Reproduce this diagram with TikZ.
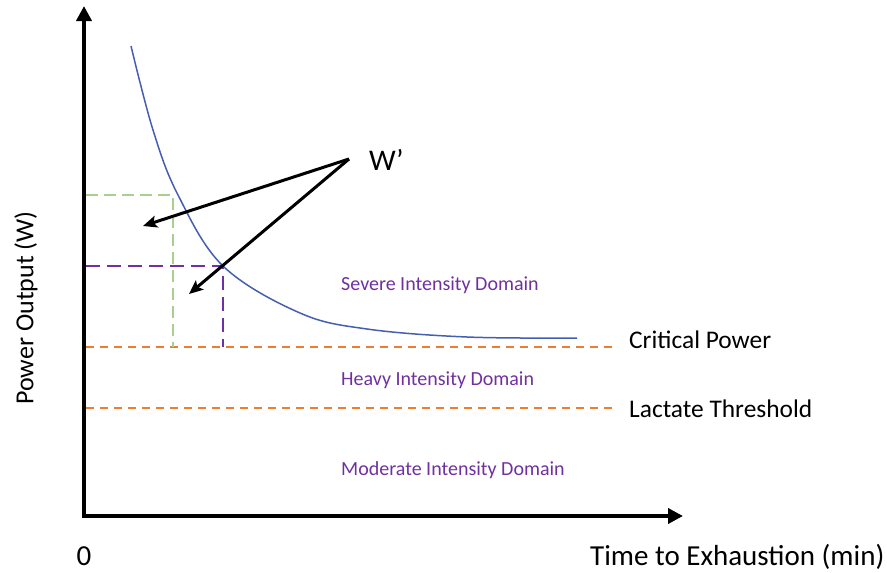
\documentclass[tikz,border=0pt]{standalone}
\usepackage{fontspec}
\setmainfont{Carlito}
\usetikzlibrary{arrows.meta}
\definecolor{curveblue}{RGB}{68,95,175}
\definecolor{domorange}{RGB}{237,125,49}
\definecolor{dompurple}{RGB}{112,48,160}
\definecolor{lightgreen}{RGB}{169,209,142}
\begin{document}
\begin{tikzpicture}[x=1pt,y=-1pt,
  axisline/.style={line width=4pt,-{Triangle[length=15pt,width=15pt]}},
  pointer/.style={line width=3pt,-{Stealth[length=14pt,width=12pt,inset=3pt]}},
  thresh/.style={domorange,line width=1.6pt,dash pattern=on 8pt off 6pt},
  domlabel/.style={dompurple,font=\fontsize{20}{24}\selectfont,anchor=west,inner sep=0pt},
  txtlabel/.style={black,font=\fontsize{25.4}{30}\selectfont,inner sep=0pt},
  biglabel/.style={black,font=\fontsize{29}{34}\selectfont,inner sep=0pt}]
\useasboundingbox (0,0) rectangle (887,573);
\coordinate (O) at (84,516);
\coordinate (ytop) at (84,6);
\coordinate (xend) at (683,516);
% thresholds
\coordinate (cpL) at (86,347);
\coordinate (cpR) at (612,347);
\coordinate (ltL) at (86,408);
\coordinate (ltR) at (612,408);
\draw[thresh] (cpL) -- (cpR);
\draw[thresh] (ltL) -- (ltR);
% dashed guides
\coordinate (gA) at (86,195);
\coordinate (gC) at (173,195);
\coordinate (gB) at (173,347);
\draw[lightgreen,line width=1.3pt,dash pattern=on 12pt off 6pt] (gA) -- (gC) -- (gB);
\coordinate (pA) at (86,266);
\coordinate (pC) at (223,266);
\coordinate (pB) at (223,347);
\draw[dompurple,line width=1.8pt,dash pattern=on 14pt off 7pt] (pA) -- (pC) -- (pB);
% curve
\draw[curveblue,line width=1.5pt] plot[smooth,tension=0.6] coordinates
  {(131,46) (153,130) (178,195) (223,266) (300,313) (367,329) (467,337) (577,338)};
% axes
\draw[axisline] (O) -- (ytop);
\draw[axisline] ([xshift=-2pt]O) -- (xend);
% W'
\node[black,font=\fontsize{30}{36}\selectfont,inner sep=0pt,anchor=west] (w) at (369,160) {W’};
\coordinate (wtip) at (349,159);
\coordinate (a1) at (143,226);
\coordinate (a2) at (189,294);
\draw[pointer] (wtip) -- (a1);
\draw[pointer] (wtip) -- (a2);
% domains
\node[domlabel] (sev) at (341,285) {Severe Intensity Domain};
\node[domlabel] (hev) at (341,380) {Heavy Intensity Domain};
\node[domlabel] (mod) at (341,470) {Moderate Intensity Domain};
% labels
\node[txtlabel,anchor=west] (cp) at (629,340) {Critical Power};
\node[txtlabel,anchor=west] (lt) at (629,409) {Lactate Threshold};
\node[txtlabel,font=\fontsize{26}{30}\selectfont,rotate=90] (yl) at (26,308) {Power Output (W)};
\node[biglabel] (zero) at (84,556) {0};
\node[biglabel,anchor=west] (xl) at (590,557) {Time to Exhaustion (min)};
\end{tikzpicture}
\end{document}
